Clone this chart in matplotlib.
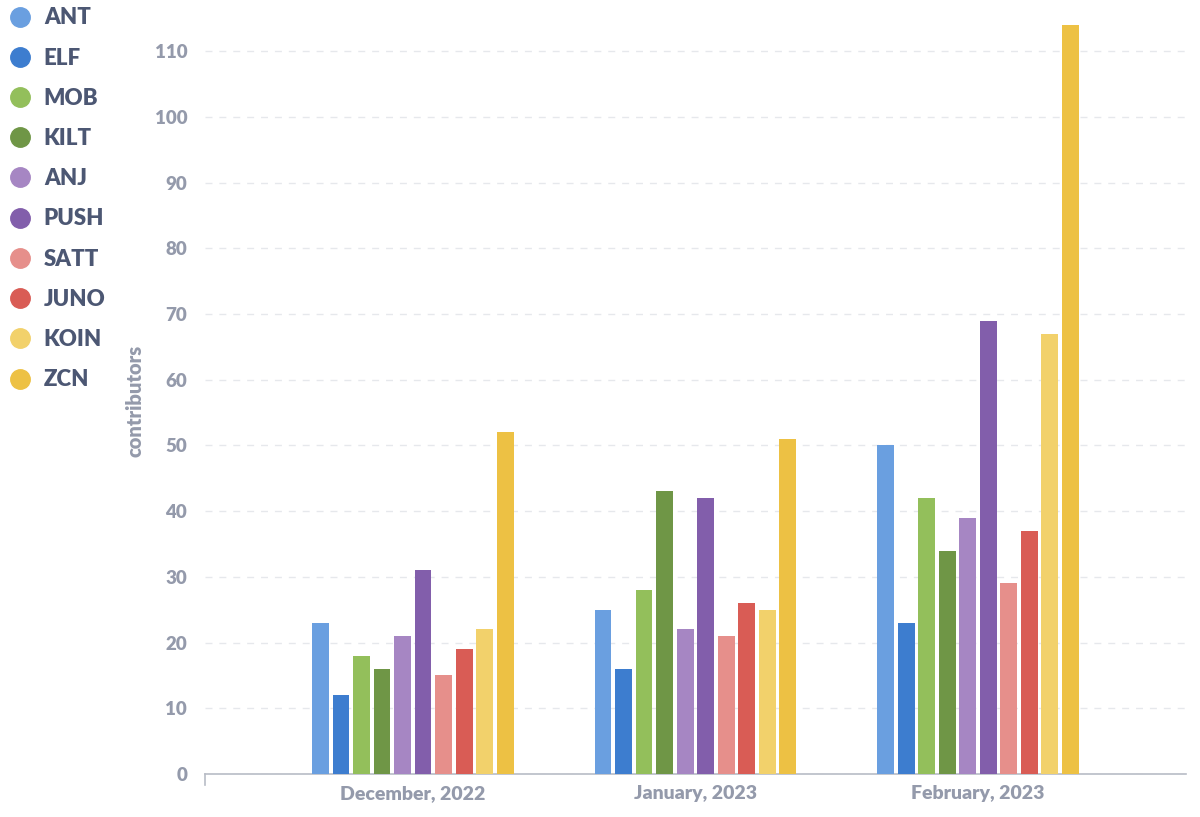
import matplotlib
matplotlib.use("Agg")
import matplotlib.pyplot as plt
from matplotlib.lines import Line2D
import numpy as np

plt.rcParams['font.family'] = ['Lato', 'DejaVu Sans']

months = ['December, 2022', 'January, 2023', 'February, 2023']
tokens = ['ANT', 'ELF', 'MOB', 'KILT', 'ANJ', 'PUSH', 'SATT', 'JUNO', 'KOIN', 'ZCN']

ant = [23, 25, 50]
elf = [12, 16, 23]
mob = [18, 28, 42]
kilt = [16, 43, 34]
anj = [21, 22, 39]
push = [31, 42, 69]
satt = [15, 21, 29]
juno = [19, 26, 37]
koin = [22, 25, 67]
zcn = [52, 51, 114]

series = [ant, elf, mob, kilt, anj, push, satt, juno, koin, zcn]

colors = ['#6a9fe0', '#3d7dcf', '#93bf5b', '#6f9646', '#a686c3',
          '#825eab', '#e68f8b', '#d95c55', '#f2d16b', '#edc144']

tick_color = '#949aab'
text_color = '#4c5773'

fig = plt.figure(figsize=(12, 8.17), dpi=100)
ax = fig.add_axes([0.171, 0.0526, 0.817, 0.933])

x = np.arange(len(months))
pitch = 0.0726
width = 0.0593
for i, vals in enumerate(series):
    offset = pitch * (i - 4.5)
    ax.bar(x + offset, vals, width, color=colors[i], zorder=3)

ax.set_xlim(-0.735, 2.735)
ax.set_ylim(0, 116)
ax.set_yticks(np.arange(0, 111, 10))
ax.set_xticks(x)
ax.set_xticklabels(months)

ax.grid(axis='y', linestyle=(0, (5, 5)), color='#e6e8ec', linewidth=1, zorder=0)
ax.set_axisbelow(True)
for s in ['top', 'right', 'left']:
    ax.spines[s].set_visible(False)
ax.spines['bottom'].set_color('#b8bcc6')
ax.spines['bottom'].set_linewidth(1.2)

ax.tick_params(axis='both', length=0, colors=tick_color)
ax.tick_params(axis='y', pad=13, labelsize=13.5)
ax.tick_params(axis='x', pad=8, labelsize=14)
for lbl in ax.get_xticklabels() + ax.get_yticklabels():
    lbl.set_fontweight('heavy')
    lbl.set_color(tick_color)

ax.set_ylabel('contributors', fontsize=14.5, fontweight='heavy', color=tick_color)
ax.yaxis.set_label_coords(-0.062, 0.49)

# small tick at the left end of the axis
ax.plot([-0.735, -0.735], [0, -1.6], color='#b8bcc6', lw=1.2, clip_on=False)

handles = [Line2D([0], [0], marker='o', linestyle='none', markersize=14,
                  markerfacecolor=c, markeredgecolor=c) for c in colors]
leg = fig.legend(handles, tokens, loc='upper left', bbox_to_anchor=(-0.007, 1.01),
                 frameon=False, fontsize=16, labelspacing=0.865,
                 handletextpad=0.45, handlelength=1.2, borderaxespad=0.3)
for t in leg.get_texts():
    t.set_color(text_color)
    t.set_fontweight('heavy')

fig.savefig('out.png', dpi=100, facecolor='white')
